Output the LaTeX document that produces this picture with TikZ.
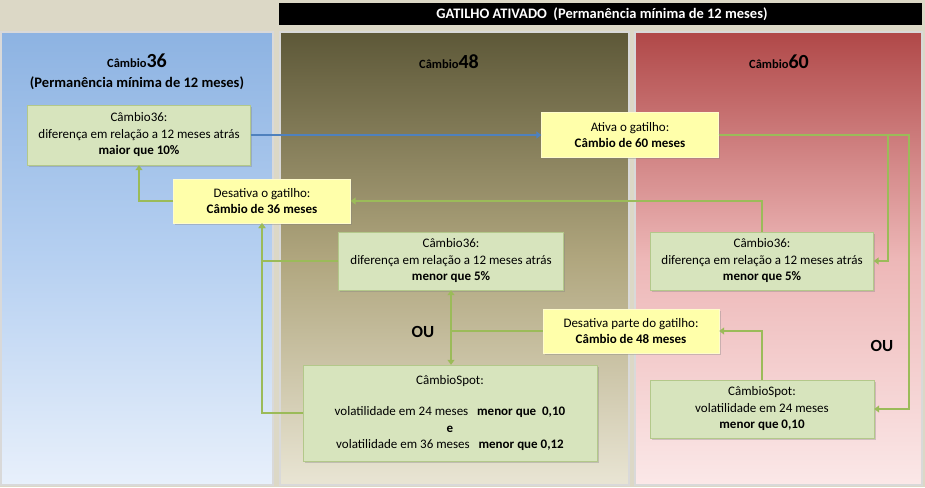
\documentclass[tikz,border=0pt]{standalone}
\usepackage{fontspec}
\setmainfont{Carlito}
\usetikzlibrary{shadows,arrows.meta}

\definecolor{fundo}{HTML}{DCD8C6}
\definecolor{azulTopo}{HTML}{8DB3E2}
\definecolor{azulMeio}{HTML}{B6D0F1}
\definecolor{azulBase}{HTML}{E8F0FB}
\definecolor{olivaTopo}{HTML}{5D5838}
\definecolor{olivaMeio}{HTML}{B0A67E}
\definecolor{olivaBase}{HTML}{E9E5D4}
\definecolor{vermTopo}{HTML}{B04848}
\definecolor{vermMeio}{HTML}{EDB7B7}
\definecolor{vermBase}{HTML}{FBE8E8}
\definecolor{caixaVerde}{HTML}{D7E4BD}
\definecolor{bordaVerde}{HTML}{B3C88A}
\definecolor{caixaAmarela}{HTML}{FFFFAA}
\definecolor{setaVerde}{HTML}{9BBB59}
\definecolor{setaAzul}{HTML}{4F81BD}

\tikzset{
  painel/.style={draw=white!70!gray, line width=1.5pt},
  caixa/.style={draw=bordaVerde, fill=caixaVerde, align=center, inner sep=2pt,
    font=\fontsize{13}{16.5}\selectfont,
    drop shadow={opacity=0.35, shadow xshift=1.5pt, shadow yshift=-1.5pt}},
  aviso/.style={caixa, draw=white!80!yellow, fill=caixaAmarela},
  seta/.style={draw=setaVerde, line width=2.2pt, -{Triangle[width=7pt,length=5pt]}},
  linha/.style={draw=setaVerde, line width=2.2pt},
  titulo/.style={font=\bfseries\fontsize{14.5}{20}\selectfont, align=center},
  cambio/.style={font=\bfseries\fontsize{12.5}{20}\selectfont}
}

\begin{document}
\begin{tikzpicture}[x=1pt, y=-1pt]
  \useasboundingbox (0,0) rectangle (925,487);
  \fill[fundo] (0,0) rectangle (925,487);

  % faixa do titulo
  \fill[black] (279,3) rectangle (922,25);
  \node[titulo, text=white] (faixa) at (602,14) {GATILHO ATIVADO\ \ (Permanência mínima de 12 meses)};

  % paineis
  \shade[top color=azulTopo, bottom color=azulBase, middle color=azulMeio] (1,32) rectangle (273,485);
  \draw[painel] (1,32) rectangle (273,485);
  \shade[top color=olivaTopo, bottom color=olivaBase, middle color=olivaMeio] (280,32) rectangle (629,485);
  \draw[painel] (280,32) rectangle (629,485);
  \shade[top color=vermTopo, bottom color=vermBase, middle color=vermMeio] (635,32) rectangle (922,485);
  \draw[painel] (635,32) rectangle (922,485);

  \node[titulo] (t36) at (137,72) {{\fontsize{12.5}{20}\selectfont Câmbio}{\fontsize{20}{20}\selectfont 36}\\(Permanência mínima de 12 meses)};
  \node[cambio] (t48) at (449,62) {Câmbio{\fontsize{20}{20}\selectfont 48}};
  \node[cambio] (t60) at (779,62) {Câmbio{\fontsize{20}{20}\selectfont 60}};

  % caixas
  \node[caixa, minimum width=223pt, minimum height=60pt] (g1) at (139,135)
    {Câmbio36:\\diferença em relação a 12 meses atrás\\\textbf{maior que 10\%}};
  \node[aviso, minimum width=177pt, minimum height=44pt] (y1) at (262,201)
    {Desativa o gatilho:\\\textbf{Câmbio de 36 meses}};
  \node[aviso, minimum width=177pt, minimum height=45pt] (y2) at (630,135)
    {Ativa o gatilho:\\\textbf{Câmbio de 60 meses}};
  \node[caixa, minimum width=225pt, minimum height=58pt] (g2) at (451,261)
    {Câmbio36:\\diferença em relação a 12 meses atrás\\\textbf{menor que 5\%}};
  \node[caixa, minimum width=223pt, minimum height=58pt] (g3) at (762,261)
    {Câmbio36:\\diferença em relação a 12 meses atrás\\\textbf{menor que 5\%}};
  \node[aviso, minimum width=176pt, minimum height=44pt] (y3) at (631,331)
    {Desativa parte do gatilho:\\\textbf{Câmbio de 48 meses}};
  \node[caixa, minimum width=294pt, minimum height=96pt] (g4) at (450,413)
    {CâmbioSpot:\\[15pt]volatilidade em 24 meses\ \ \ \textbf{menor que\ \ 0,10}\\\textbf{e}\\volatilidade em 36 meses\ \ \ \textbf{menor que 0,12}};
  \node[caixa, minimum width=224pt, minimum height=58pt] (g5) at (762,409)
    {CâmbioSpot:\\volatilidade em 24 meses\\\textbf{menor que 0,10}};

  \node[titulo, font=\bfseries\fontsize{17}{18}\selectfont] (ou1) at (423,332) {OU};
  \node[titulo, font=\bfseries\fontsize{17}{18}\selectfont] (ou2) at (882,346) {OU};

  % ligacoes
  \draw[line width=2pt, draw=setaAzul, -{Triangle[width=7pt,length=5pt]}] (g1.east) -- (y2.west);
  \draw[seta] (y1.west) -| (g1.south);
  \draw[seta] (y2.east) -| ([xshift=14pt]g3.east) -- (g3.east);
  \draw[seta] (y2.east) -| ([xshift=35pt]g5.east) -- (g5.east);
  \draw[seta] (g3.north) |- (y1.east);
  \draw[seta] (g2.west) -| (y1.south);
  \draw[seta] (g4.west) -| (y1.south);
  \draw[seta, {Triangle[width=7pt,length=5pt]}-{Triangle[width=7pt,length=5pt]}] (g2.south) -- (g2.south |- g4.north);
  \draw[linha] (g2.south |- y3.west) -- (y3.west);
  \draw[seta] (g5.north) |- (y3.east);
\end{tikzpicture}
\end{document}
